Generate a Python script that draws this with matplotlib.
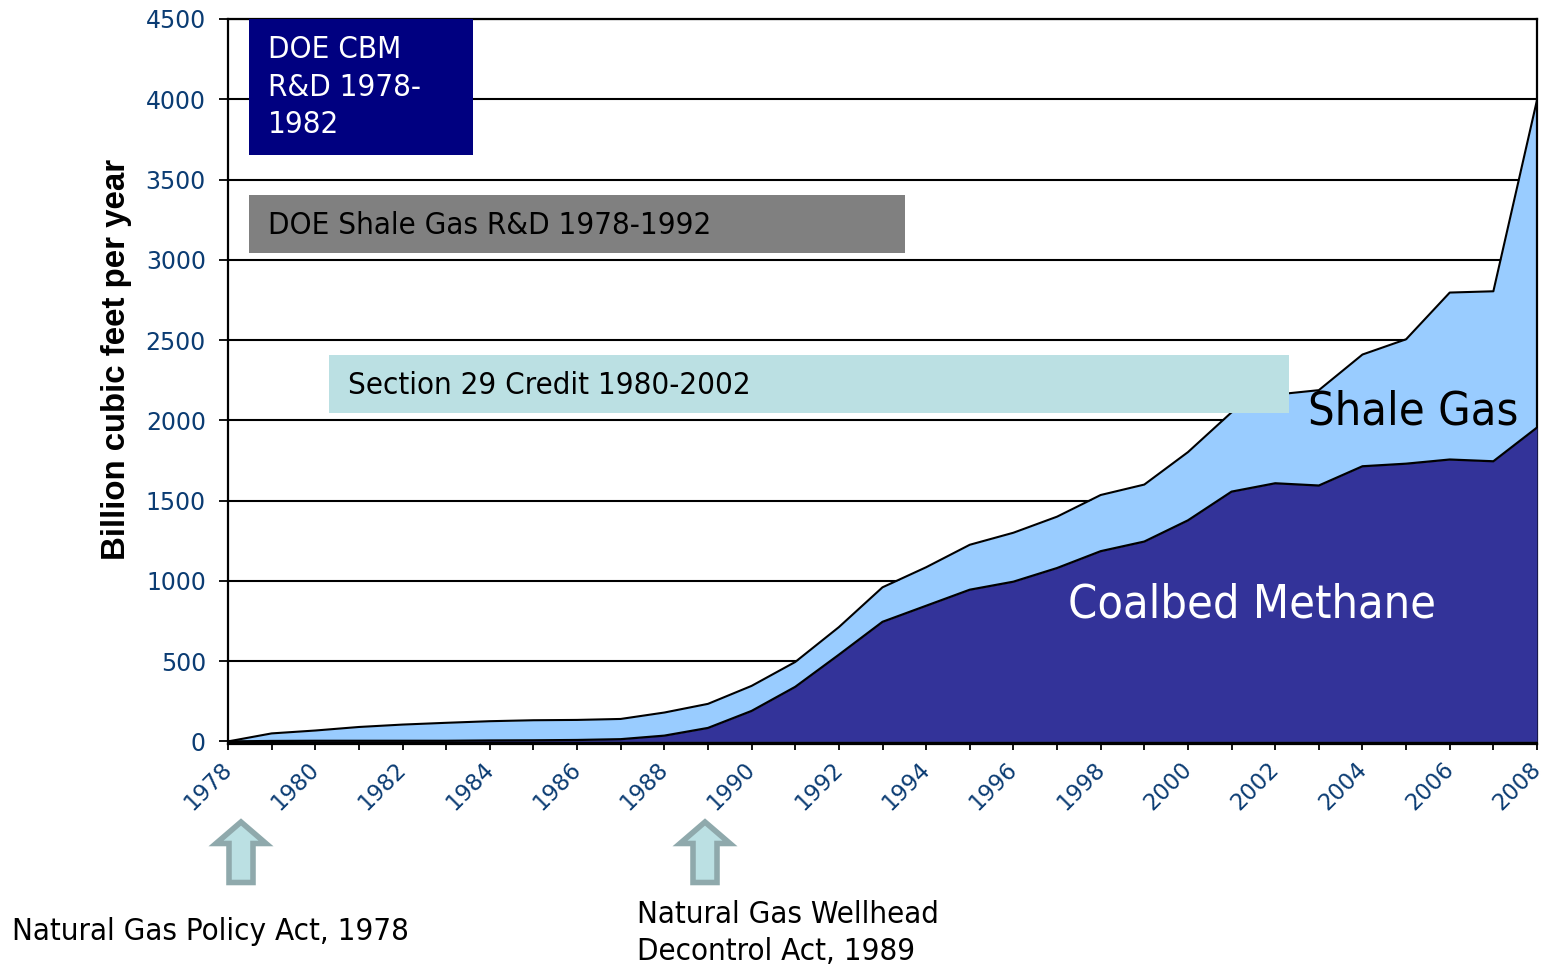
import matplotlib
matplotlib.use("Agg")
import matplotlib.pyplot as plt
from matplotlib.patches import Rectangle, Polygon
from matplotlib.transforms import ScaledTranslation

years = list(range(1978, 2009))
coalbed = [0, 3, 4, 4, 4, 4, 6, 7, 9, 14, 36, 84, 190, 340, 540, 745, 845, 945, 995,
           1080, 1185, 1245, 1377, 1556, 1608, 1594, 1714, 1730, 1756, 1745, 1955]
total = [0, 50, 68, 90, 105, 116, 126, 132, 134, 140, 180, 234, 346, 495, 712, 960,
         1085, 1225, 1300, 1400, 1535, 1600, 1802, 2050, 2160, 2188, 2410, 2505, 2796, 2804, 3995]
y_ticks = list(range(0, 5000, 500))
x_labels = list(range(1978, 2009, 2))
ylabel = "Billion cubic feet per year"

W, H = 1545, 967
FONT = "DejaVu Sans"
STRETCH = "condensed"
plt.rcParams["font.family"] = FONT

fig = plt.figure(figsize=(W / 100, H / 100), dpi=100)
ax_top, ax_bot, ax_l, ax_r = 19, 744, 228, 1537
ax = fig.add_axes([ax_l / W, 1 - ax_bot / H, (ax_r - ax_l) / W, (ax_bot - ax_top) / H])
ax.set_xlim(1978, 2008)
ax.set_ylim(-16, 4500)

ax.fill_between(years, 0, total, color="#99CCFF", lw=0, zorder=2)
ax.fill_between(years, 0, coalbed, color="#333399", lw=0, zorder=3)
ax.plot(years, total, color="black", lw=1.5, zorder=4)
ax.plot(years, coalbed, color="black", lw=1.6, zorder=4)
ax.plot([1978, 2008], [-8, -8], color="black", lw=2.5, zorder=4, solid_capstyle="butt")

ax.set_yticks(y_ticks)
ax.yaxis.grid(True, color="black", lw=1.5, zorder=1)
ax.set_axisbelow(True)
ax.set_xticks(years, minor=True)
ax.set_xticks(x_labels)
ax.set_xticklabels(x_labels)
ax.tick_params(axis="x", which="both", length=4, width=1.3, color="black", pad=5.5)
ax.tick_params(axis="y", length=6.5, width=1.3, pad=9.4)
shift = ScaledTranslation(-5.5 / 72, 0, fig.dpi_scale_trans)
for t in ax.get_xticklabels():
    t.set(rotation=45, ha="right", va="top", rotation_mode="anchor",
          fontsize=16.3, color="#0B3C73", family="DejaVu Sans")
    t.set_transform(t.get_transform() + shift)
for t in ax.get_yticklabels():
    t.set(fontsize=17, color="#0B3C73", family="DejaVu Sans")
for s in ax.spines.values():
    s.set_color("black")
    s.set_linewidth(1.6)

fig.text(116 / W, 1 - 359 / H, ylabel, rotation=90, ha="center", va="center",
         fontsize=23.8, fontweight="bold", family="Liberation Sans", color="black")


def px_rect(x0, y0, x1, y1, color):
    fig.add_artist(Rectangle((x0 / W, 1 - y1 / H), (x1 - x0) / W, (y1 - y0) / H,
                             transform=fig.transFigure, facecolor=color, edgecolor="none", zorder=5))


def label(x, y, s, color="black", size=22.4, va="center"):
    fig.text(x / W, 1 - y / H, s, color=color, fontsize=size, va=va, ha="left",
             family=FONT, stretch=STRETCH, zorder=6, linespacing=1.36)


px_rect(249, 19, 473, 155, "#000080")
label(268, 87, "DOE CBM\nR&D 1978-\n1982", color="white")
px_rect(249, 195, 905, 253, "#808080")
label(268, 226, "DOE Shale Gas R&D 1978-1992")
px_rect(329, 355, 1289, 413, "#BBE0E3")
label(348, 386, "Section 29 Credit 1980-2002")

label(1308, 412, "Shale Gas", size=33.7)
label(1068, 605, "Coalbed Methane", color="white", size=33.6)
label(12, 931, "Natural Gas Policy Act, 1978")
label(637, 933, "Natural Gas Wellhead\nDecontrol Act, 1989")


def arrow(cx):
    top, bot, mid, hw, sw = 822, 882.5, 843.5, 25, 12
    pts = [(cx, top), (cx + hw, mid), (cx + sw, mid), (cx + sw, bot),
           (cx - sw, bot), (cx - sw, mid), (cx - hw, mid)]
    fig.add_artist(Polygon([(x / W, 1 - y / H) for x, y in pts], closed=True,
                           transform=fig.transFigure, facecolor="#BBE0E3",
                           edgecolor="#8FA9AC", lw=4, joinstyle="miter", zorder=5))


arrow(241)
arrow(705)

fig.savefig("out.png", dpi=100)
